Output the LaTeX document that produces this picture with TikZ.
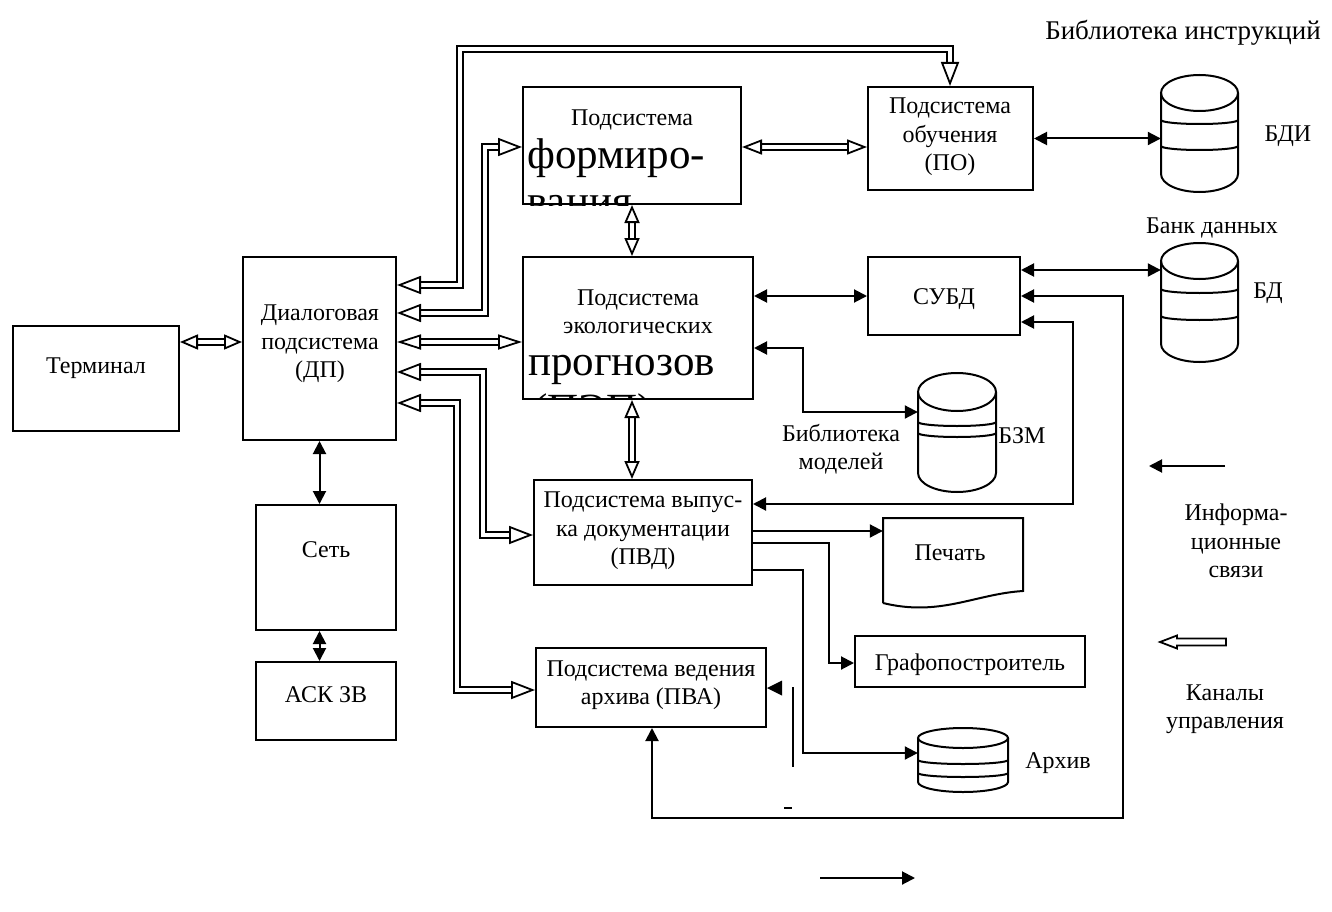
\documentclass[tikz,border=0pt]{standalone}
\usepackage{fontspec}
\setmainfont{Liberation Serif}
\usetikzlibrary{arrows.meta,calc}
\newcommand\chan[3]{\draw[chs=#1] #3; \draw[cht={#1}{#2}] #3;}
\newcommand\cyl[7]{%
  \draw[ln] (#1,#2+#5) ellipse [x radius=#4, y radius=#5];
  \draw[ln] (#1-#4,#2+#5) -- (#1-#4,#3-#5) arc[start angle=180, end angle=0, x radius=#4, y radius=#5] -- (#1+#4,#2+#5);
  \draw[ln] (#1-#4,#6) arc[start angle=180, end angle=0, x radius=#4, y radius=4];
  \draw[ln] (#1-#4,#7) arc[start angle=180, end angle=0, x radius=#4, y radius=4];}
\begin{document}
\begin{tikzpicture}[x=1pt,y=-1pt,
  every node/.style={font=\fontsize{24}{28.5}\selectfont, inner sep=0pt, align=center},
  ln/.style={line width=2pt},
  box/.style={draw, line width=2pt},
  big/.style={font=\fontsize{43}{48}\selectfont, anchor=base west, align=left},
  inf/.style={line width=2pt, {Triangle[length=13pt,width=13pt]}-{Triangle[length=13pt,width=13pt]}},
  infr/.style={line width=2pt, -{Triangle[length=13pt,width=13pt]}},
  chs/.style={draw=black, double=white, line width=1.8pt, double distance=4pt, shorten <=#1pt, shorten >=#1pt},
  cht/.style 2 args={draw=white, line width=1pt,
    {Triangle[length=#1pt,width=#2pt,color=black,fill=white,line width=1.8pt]}-{Triangle[length=#1pt,width=#2pt,color=black,fill=white,line width=1.8pt]}},
]
\useasboundingbox (0,0) rectangle (1332,912);

% boxes
\node[box, minimum width=166pt, minimum height=105pt] (term) at (96,378.5) {};
\node[box, minimum width=153pt, minimum height=183pt] (dp) at (319.5,348.5) {};
\node[box, minimum width=140pt, minimum height=125pt] (set) at (326,567.5) {};
\node[box, minimum width=140pt, minimum height=78pt] (ask) at (326,701) {};
\node[box, minimum width=218pt, minimum height=117pt] (form) at (632,145.5) {};
\node[box, minimum width=230pt, minimum height=142pt] (pep) at (638,328) {};
\node[box, minimum width=165pt, minimum height=103pt] (po) at (950.5,138.5) {};
\node[box, minimum width=152pt, minimum height=78pt] (subd) at (944,296) {};
\node[box, minimum width=218pt, minimum height=105pt] (pvd) at (643,532.5) {};
\node[box, minimum width=230pt, minimum height=79pt] (pva) at (651,687.5) {};
\node[box, minimum width=230pt, minimum height=51pt] (graf) at (970,661.5) {};
% placeholders for drawn shapes
\node[minimum width=140pt, minimum height=85pt] (print) at (953,560.5) {};
\node[minimum width=77pt, minimum height=117pt] (bdi) at (1199.5,133.5) {};
\node[minimum width=77pt, minimum height=119pt] (bd) at (1199.5,302.5) {};
\node[minimum width=78pt, minimum height=119pt] (bzm) at (957,432.5) {};
\node[minimum width=90pt, minimum height=64pt] (arch) at (963,760) {};

% document shape
\draw[ln] (883,603) -- (883,518) -- (1023,518) -- (1023,591) .. controls (975,594) and (940,617) .. (883,603);
% cylinders
\cyl{1199.5}{75}{192}{38.5}{18}{120}{146}
\cyl{1199.5}{243}{362}{38.5}{18}{289}{316}
\cyl{957}{373}{492}{39}{19}{422}{433}
\cyl{963}{728}{792}{45}{10}{760}{773}

% texts
\node (termT) at (96,368) {Терминал};
\node (dpT) at (320,344) {Диалоговая\\подсистема\\(ДП)};
\node (setT) at (326,550) {Сеть};
\node (askT) at (326,695) {АСК ЗВ};
\node (formT) at (632,120) {Подсистема};
\node (pepT) at (638,312) {Подсистема\\экологических};
\node (poT) at (950,137) {Подсистема\\обучения\\(ПО)};
\node (subdT) at (944,299) {СУБД};
\node (pvdT) at (643,531) {Подсистема выпус-\\ка документации\\(ПВД)};
\node (pvaT) at (651,685) {Подсистема ведения\\архива (ПВА)};
\node (printT) at (950,553) {Печать};
\node (grafT) at (970,665) {Графопостроитель};
\node (bdiT) at (1288,136) {БДИ};
\node (bankT) at (1212,228) {Банк данных};
\node (bdT) at (1268,293) {БД};
\node (bzmT) at (1022,436) {БЗМ};
\node (libT) at (841,449) {Библиотека\\моделей};
\node (archT) at (1058,763) {Архив};
\node[font=\fontsize{27}{30}\selectfont] (libiT) at (1183,33) {Библиотека инструкций};
\node (infT) at (1236,541) {Информа-\\ционные\\связи};
\node (kanT) at (1225,709) {Каналы\\управления};

% clipped large texts
\begin{scope}
  \clip (form.south west) rectangle (form.north east);
  \node[big] (formB1) at (527,168) {формиро-};
  \node[big] (formB2) at (527,215) {вания};
\end{scope}
\begin{scope}
  \clip ($(pep.south west)+(0,-3)$) rectangle (pep.north east);
  \node[big] (pepB1) at (528,375) {прогнозов};
  \node[big] (pepB2) at (533,423) {(ПЭП)};
\end{scope}

% information links
\draw[inf] (dp.south) -- (dp.south |- set.north);
\draw[inf, dash pattern=on 6pt off 4pt] (set.south -| dp.south) -- (dp.south |- ask.north);
\draw[inf] (po.east) -- (po.east -| bdi.west);
\draw[inf] (pep.east |- subd.west) -- (subd.west);
\draw[inf] (subd.east |- 0,270) -- (bd.west |- 0,270);
\draw[inf] (pep.east |- 0,348) -- (803,348) -- (803,412) -- (bzm.west |- 0,412);
\draw[inf] (subd.east |- 0,322) -- (1073,322) -- (1073,504) -- (pvd.east |- 0,504);
\draw[inf] (subd.east) -- (1123,296) -- (1123,818) -- (652,818) -- (652,0 |- pva.south);
\draw[infr] (pvd.east |- 0,531) -- (print.west |- 0,531);
\draw[infr] (pvd.east |- 0,543) -- (829,543) -- (829,663) -- (graf.west |- 0,663);
\draw[infr] (pvd.east |- 0,570) -- (803,570) -- (803,753) -- (arch.west |- 0,753);
% stray marks
\fill (pva.east |- 0,688) -- (782,680.5) -- (782,695.5) -- cycle;
\draw[ln] (793,687) -- (793,767);
\draw[line width=2pt] (784,808) -- (792,808);

% control channels
\chan{18}{15}{(term.east |- 0,342) -- (dp.west |- 0,342)}
\chan{24}{15}{(dp.east |- 0,342) -- (pep.west |- 0,342)}
\chan{20}{15}{(form.east |- 0,147) -- (po.west |- 0,147)}
\chan{18}{15}{(632,0 |- form.south) -- (632,0 |- pep.north)}
\chan{18}{15}{(632,0 |- pep.south) -- (632,0 |- pvd.north)}
\chan{24}{18}{(dp.east |- 0,285) -- (460,285) -- (460,49) -- (950,49) -- (950,0 |- po.north)}
\chan{24}{18}{(dp.east |- 0,313) -- (485,313) -- (485,147) -- (form.west |- 0,147)}
\chan{24}{18}{(dp.east |- 0,372) -- (483,372) -- (483,535) -- (pvd.west |- 0,535)}
\chan{24}{18}{(dp.east |- 0,403) -- (457,403) -- (457,690) -- (pva.west |- 0,690)}

% legend
\coordinate (lgA) at (1225,466);
\coordinate (lgB) at (1149,466);
\draw[infr] (lgA) -- (lgB);
\draw[line width=1.8pt, fill=white] (1160,642) -- (1177,635.5) -- (1177,638.5) -- (1226,638.5) -- (1226,645.5) -- (1177,645.5) -- (1177,648.5) -- cycle;
\coordinate (bA) at (820,878);
\coordinate (bB) at (915,878);
\draw[infr] (bA) -- (bB);
\end{tikzpicture}
\end{document}
